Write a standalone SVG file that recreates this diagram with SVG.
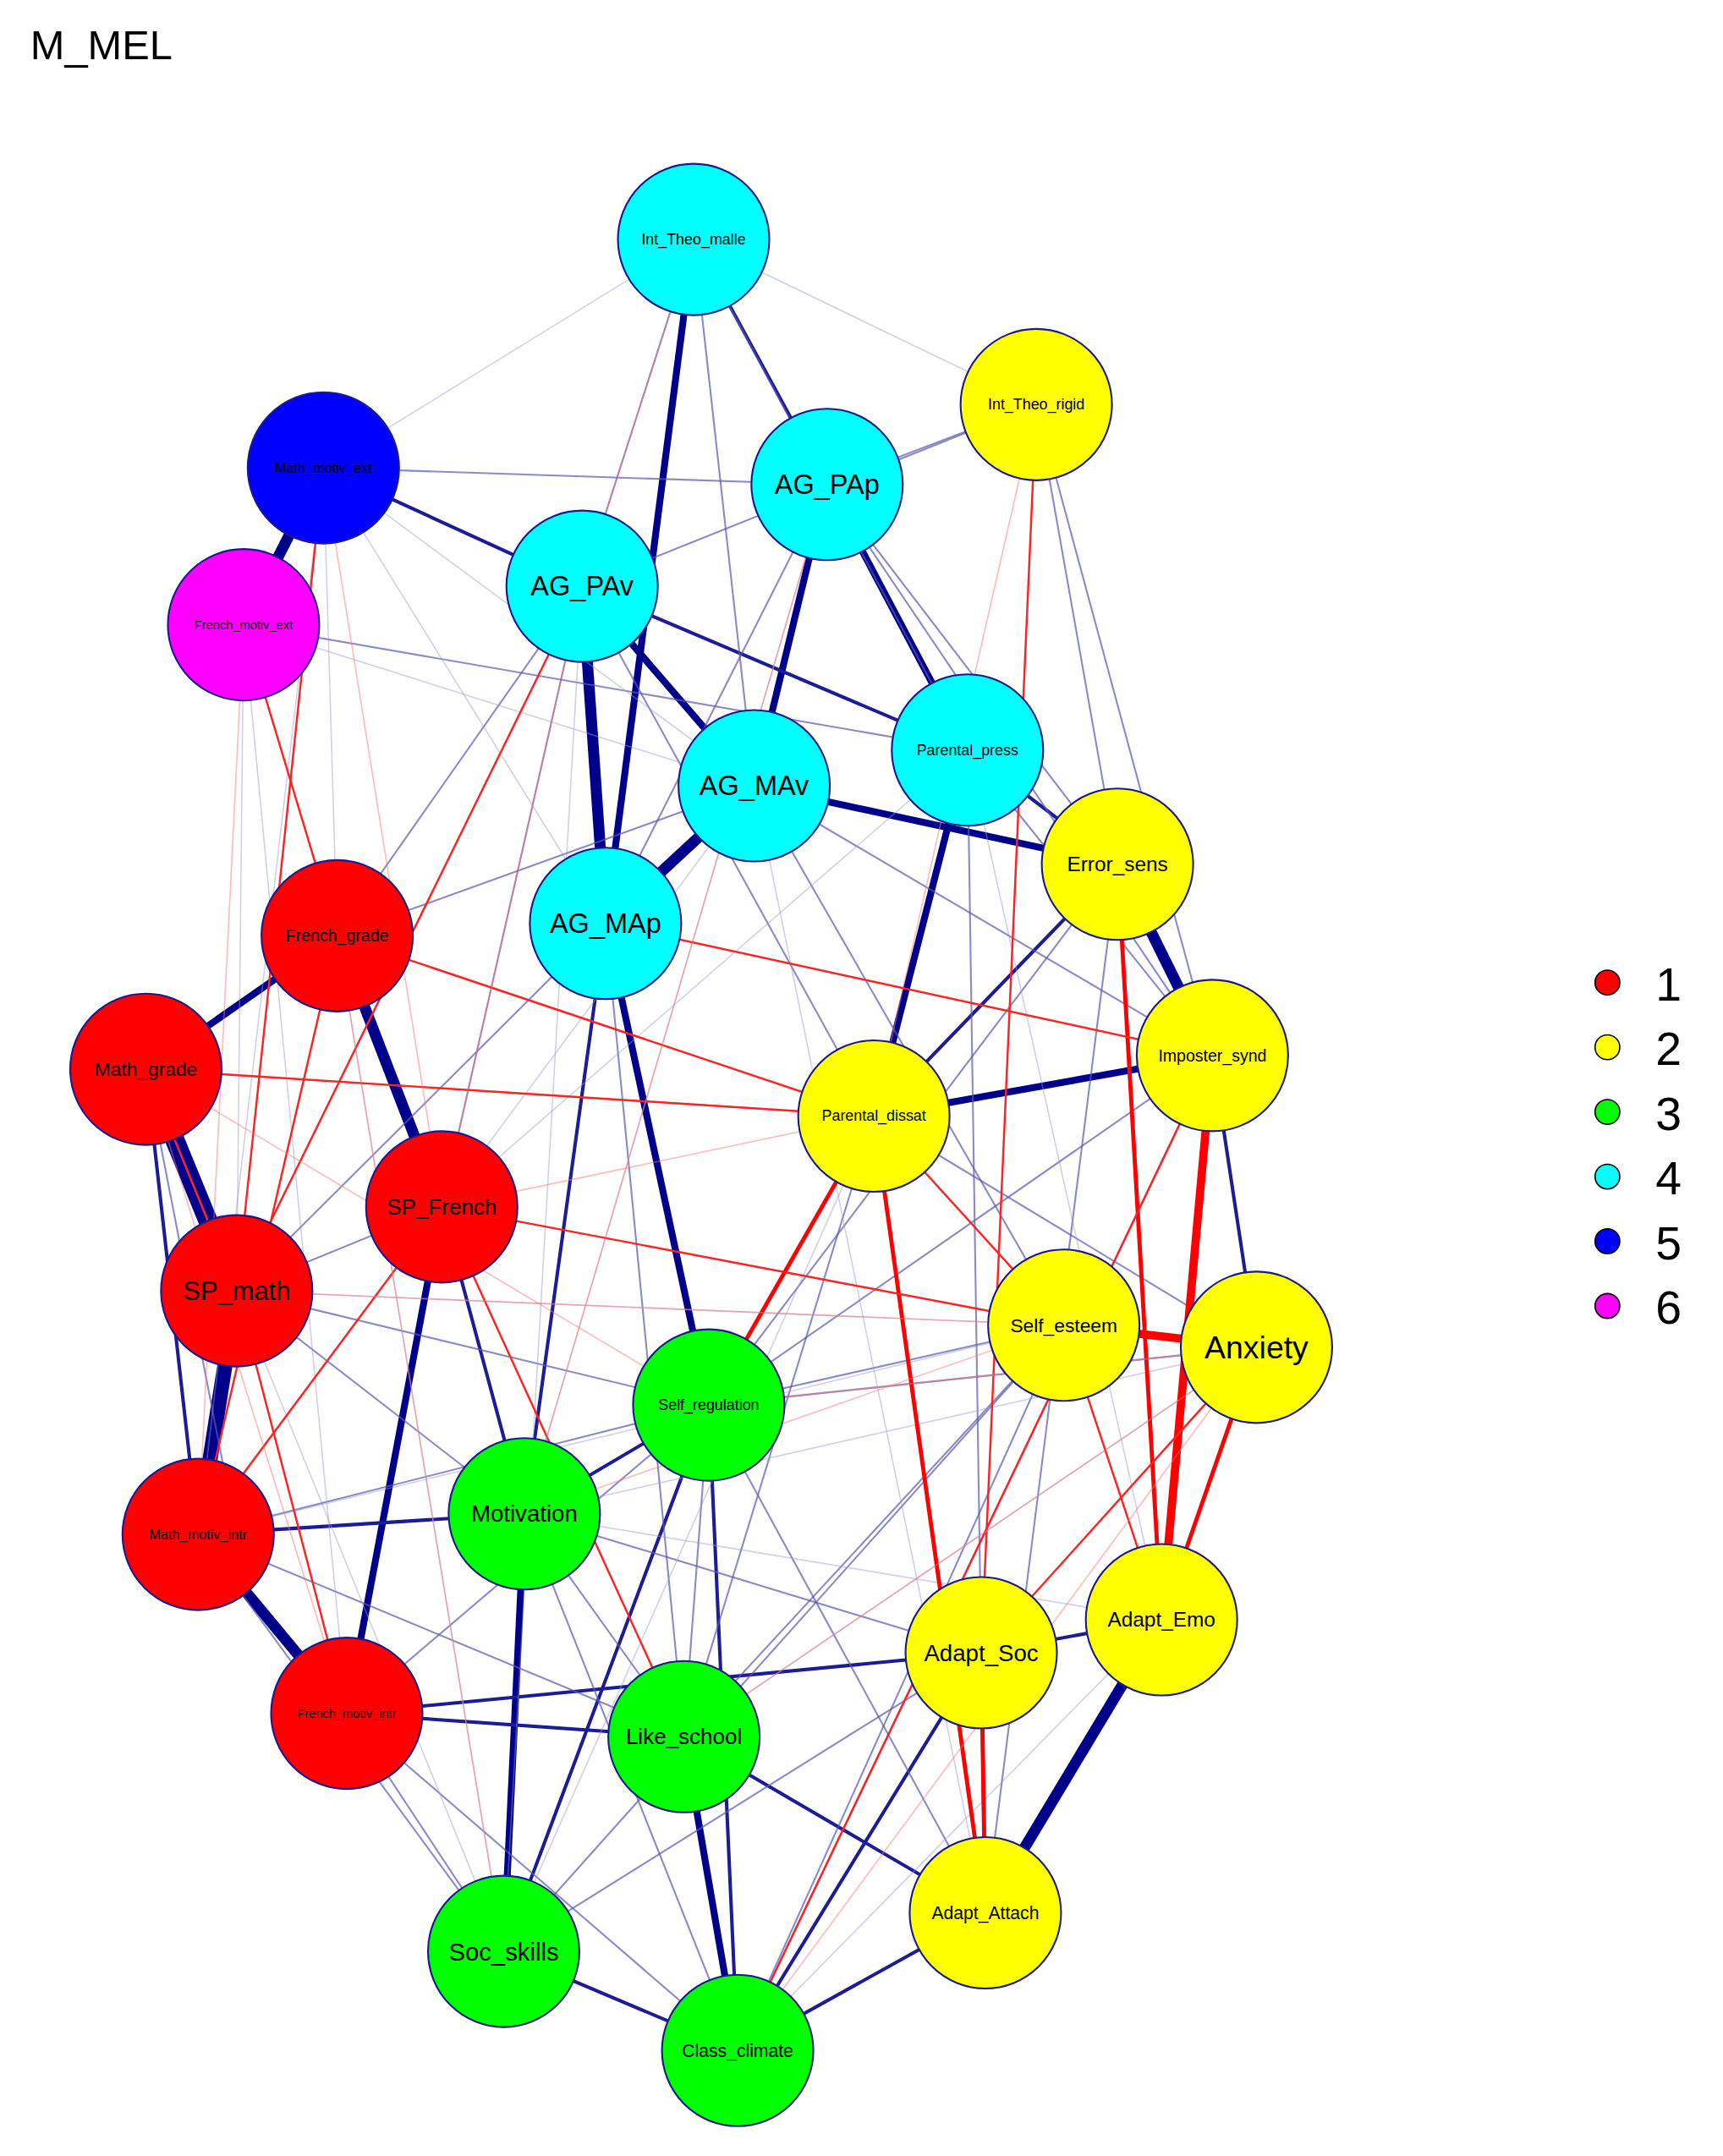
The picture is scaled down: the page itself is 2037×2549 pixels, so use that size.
<svg xmlns="http://www.w3.org/2000/svg" width="2037" height="2549" viewBox="0 0 2037 2549">
<style>
.n{stroke:#1a1a8c;stroke-width:1.3}
.t{font-family:"Liberation Sans",Arial,sans-serif;text-anchor:middle;dominant-baseline:central;fill:#000}
.b1{stroke:#00008b;stroke-width:8}.b2{stroke:#00008b;stroke-width:5}.b3{stroke:#1c1c96;stroke-width:2.5}.b4{stroke:#5a5ab0;stroke-width:1.3;opacity:.7}.b5{stroke:#9a9ad0;stroke-width:1;opacity:.45}
.r1{stroke:#ff0000;stroke-width:6}.r2{stroke:#ff0000;stroke-width:3}.r3{stroke:#f22;stroke-width:1.5}.r4{stroke:#f77;stroke-width:1;opacity:.5}
</style>
<rect width="2037" height="2549" fill="#fff"/>
<g transform="scale(1.627)">
<text x="22" y="43" style="font-family:'Liberation Sans',Arial,sans-serif;font-size:30px">M_MEL</text>
<g id="edges" fill="none">
<line class="b1" x1="235" y1="340" x2="177" y2="454"/>
<line class="b1" x1="106" y1="777" x2="172" y2="938" style="stroke-width:14"/>
<line class="b1" x1="172" y1="938" x2="144" y2="1115" style="stroke-width:11"/>
<line class="b1" x1="144" y1="1115" x2="252" y2="1245"/>
<line class="b1" x1="245" y1="680" x2="321" y2="877"/>
<line class="b2" x1="245" y1="680" x2="106" y2="777"/>
<line class="b1" x1="423" y1="426" x2="440" y2="671"/>
<line class="b1" x1="548" y1="571" x2="440" y2="671"/>
<line class="b2" x1="601" y1="352" x2="703" y2="545"/>
<line class="b1" x1="812" y1="628" x2="881" y2="767"/>
<line class="b1" x1="844" y1="1177" x2="716" y2="1390"/>
<line class="b2" x1="440" y1="671" x2="515" y2="1021"/>
<line class="b2" x1="504" y1="174" x2="440" y2="671"/>
<line class="b2" x1="381" y1="1100" x2="366" y2="1418"/>
<line class="b2" x1="321" y1="877" x2="252" y2="1245"/>
<line class="b2" x1="497" y1="1262" x2="536" y2="1490"/>
<line class="b2" x1="703" y1="545" x2="635" y2="811"/>
<line class="b2" x1="635" y1="811" x2="881" y2="767"/>
<line class="b2" x1="548" y1="571" x2="812" y2="628"/>
<line class="b2" x1="601" y1="352" x2="548" y2="571"/>
<line class="b2" x1="423" y1="426" x2="548" y2="571"/>
<line class="b3" x1="252" y1="1245" x2="497" y2="1262"/>
<line class="b3" x1="515" y1="1021" x2="381" y2="1100"/>
<line class="b3" x1="515" y1="1021" x2="366" y2="1418"/>
<line class="b3" x1="713" y1="1201" x2="716" y2="1390"/>
<line class="b3" x1="713" y1="1201" x2="844" y2="1177"/>
<line class="b3" x1="881" y1="767" x2="913" y2="979"/>
<line class="b3" x1="703" y1="545" x2="812" y2="628"/>
<line class="b3" x1="504" y1="174" x2="601" y2="352"/>
<line class="b3" x1="235" y1="340" x2="423" y2="426"/>
<line class="b3" x1="144" y1="1115" x2="381" y2="1100"/>
<line class="b3" x1="497" y1="1262" x2="716" y2="1390"/>
<line class="b3" x1="536" y1="1490" x2="716" y2="1390"/>
<line class="b3" x1="366" y1="1418" x2="536" y2="1490"/>
<line class="b3" x1="515" y1="1021" x2="536" y2="1490"/>
<line class="b3" x1="440" y1="671" x2="381" y2="1100"/>
<line class="b3" x1="321" y1="877" x2="381" y2="1100"/>
<line class="b3" x1="536" y1="1490" x2="713" y2="1201"/>
<line class="b3" x1="252" y1="1245" x2="713" y2="1201"/>
<line class="b3" x1="812" y1="628" x2="635" y2="811"/>
<line class="b3" x1="423" y1="426" x2="703" y2="545"/>
<line class="b3" x1="106" y1="777" x2="144" y2="1115"/>
<line class="b4" x1="504" y1="174" x2="423" y2="426"/>
<line class="b4" x1="504" y1="174" x2="548" y2="571"/>
<line class="b4" x1="504" y1="174" x2="703" y2="545"/>
<line class="b4" x1="753" y1="294" x2="601" y2="352"/>
<line class="b4" x1="753" y1="294" x2="423" y2="426"/>
<line class="b4" x1="753" y1="294" x2="881" y2="767"/>
<line class="b4" x1="753" y1="294" x2="812" y2="628"/>
<line class="b4" x1="235" y1="340" x2="601" y2="352"/>
<line class="b4" x1="177" y1="454" x2="703" y2="545"/>
<line class="b4" x1="601" y1="352" x2="881" y2="767"/>
<line class="b4" x1="601" y1="352" x2="440" y2="671"/>
<line class="b4" x1="601" y1="352" x2="812" y2="628"/>
<line class="b4" x1="423" y1="426" x2="245" y2="680"/>
<line class="b4" x1="423" y1="426" x2="635" y2="811"/>
<line class="b4" x1="548" y1="571" x2="881" y2="767"/>
<line class="b4" x1="548" y1="571" x2="773" y2="963"/>
<line class="b4" x1="440" y1="671" x2="172" y2="938"/>
<line class="b4" x1="440" y1="671" x2="497" y2="1262"/>
<line class="b4" x1="703" y1="545" x2="881" y2="767"/>
<line class="b4" x1="703" y1="545" x2="713" y2="1201"/>
<line class="b4" x1="812" y1="628" x2="515" y2="1021"/>
<line class="b4" x1="812" y1="628" x2="716" y2="1390"/>
<line class="b4" x1="881" y1="767" x2="515" y2="1021"/>
<line class="b4" x1="881" y1="767" x2="536" y2="1490"/>
<line class="b4" x1="635" y1="811" x2="497" y2="1262"/>
<line class="b4" x1="635" y1="811" x2="913" y2="979"/>
<line class="b4" x1="773" y1="963" x2="515" y2="1021"/>
<line class="b4" x1="773" y1="963" x2="366" y2="1418"/>
<line class="b4" x1="773" y1="963" x2="536" y2="1490"/>
<line class="b4" x1="913" y1="979" x2="515" y2="1021"/>
<line class="b4" x1="515" y1="1021" x2="144" y2="1115"/>
<line class="b4" x1="515" y1="1021" x2="252" y2="1245"/>
<line class="b4" x1="515" y1="1021" x2="497" y2="1262"/>
<line class="b4" x1="515" y1="1021" x2="716" y2="1390"/>
<line class="b4" x1="381" y1="1100" x2="713" y2="1201"/>
<line class="b4" x1="381" y1="1100" x2="536" y2="1490"/>
<line class="b4" x1="381" y1="1100" x2="497" y2="1262"/>
<line class="b4" x1="144" y1="1115" x2="497" y2="1262"/>
<line class="b4" x1="144" y1="1115" x2="366" y2="1418"/>
<line class="b4" x1="252" y1="1245" x2="366" y2="1418"/>
<line class="b4" x1="252" y1="1245" x2="536" y2="1490"/>
<line class="b4" x1="321" y1="877" x2="172" y2="938"/>
<line class="b4" x1="321" y1="877" x2="423" y2="426"/>
<line class="b4" x1="245" y1="680" x2="548" y2="571"/>
<line class="b4" x1="172" y1="938" x2="381" y2="1100"/>
<line class="b4" x1="172" y1="938" x2="515" y2="1021"/>
<line class="b4" x1="106" y1="777" x2="172" y2="1115"/>
<line class="b4" x1="497" y1="1262" x2="773" y2="963"/>
<line class="b4" x1="366" y1="1418" x2="713" y2="1201"/>
<line class="b5" x1="504" y1="174" x2="235" y2="340"/>
<line class="b5" x1="504" y1="174" x2="753" y2="294"/>
<line class="b5" x1="235" y1="340" x2="548" y2="571"/>
<line class="b5" x1="235" y1="340" x2="440" y2="671"/>
<line class="b5" x1="235" y1="340" x2="144" y2="1115"/>
<line class="b5" x1="177" y1="454" x2="172" y2="938"/>
<line class="b5" x1="177" y1="454" x2="252" y2="1245"/>
<line class="b5" x1="177" y1="454" x2="548" y2="571"/>
<line class="b5" x1="423" y1="426" x2="172" y2="938"/>
<line class="b5" x1="423" y1="426" x2="366" y2="1418"/>
<line class="b5" x1="548" y1="571" x2="144" y2="1115"/>
<line class="b5" x1="548" y1="571" x2="716" y2="1390"/>
<line class="b5" x1="601" y1="352" x2="381" y2="1100"/>
<line class="b5" x1="703" y1="545" x2="321" y2="877"/>
<line class="b5" x1="703" y1="545" x2="844" y2="1177"/>
<line class="b5" x1="635" y1="811" x2="366" y2="1418"/>
<line class="b5" x1="635" y1="811" x2="106" y2="777"/>
<line class="b5" x1="773" y1="963" x2="172" y2="938"/>
<line class="b5" x1="773" y1="963" x2="144" y2="1115"/>
<line class="b5" x1="913" y1="979" x2="381" y2="1100"/>
<line class="b5" x1="913" y1="979" x2="497" y2="1262"/>
<line class="b5" x1="844" y1="1177" x2="381" y2="1100"/>
<line class="b5" x1="844" y1="1177" x2="536" y2="1490"/>
<line class="b5" x1="245" y1="680" x2="366" y2="1418"/>
<line class="b5" x1="106" y1="777" x2="366" y2="1418"/>
<line class="b5" x1="235" y1="340" x2="245" y2="680"/>
<line class="r1" x1="773" y1="963" x2="913" y2="979"/>
<line class="r1" x1="881" y1="767" x2="844" y2="1177"/>
<line class="r2" x1="635" y1="811" x2="716" y2="1390"/>
<line class="r2" x1="635" y1="811" x2="515" y2="1021"/>
<line class="r2" x1="913" y1="979" x2="844" y2="1177"/>
<line class="r2" x1="812" y1="628" x2="844" y2="1177"/>
<line class="r2" x1="713" y1="1201" x2="716" y2="1390"/>
<line class="r3" x1="245" y1="680" x2="635" y2="811"/>
<line class="r3" x1="773" y1="963" x2="844" y2="1177"/>
<line class="r3" x1="635" y1="811" x2="773" y2="963"/>
<line class="r3" x1="913" y1="979" x2="713" y2="1201"/>
<line class="r3" x1="172" y1="938" x2="423" y2="426"/>
<line class="r3" x1="144" y1="1115" x2="321" y2="877"/>
<line class="r3" x1="321" y1="877" x2="497" y2="1262"/>
<line class="r3" x1="440" y1="671" x2="881" y2="767"/>
<line class="r3" x1="106" y1="777" x2="635" y2="811"/>
<line class="r3" x1="177" y1="454" x2="245" y2="680"/>
<line class="r3" x1="235" y1="340" x2="172" y2="938"/>
<line class="r3" x1="753" y1="294" x2="713" y2="1201"/>
<line class="r3" x1="144" y1="1115" x2="245" y2="680"/>
<line class="r3" x1="252" y1="1245" x2="172" y2="938"/>
<line class="r3" x1="321" y1="877" x2="773" y2="963"/>
<line class="r3" x1="536" y1="1490" x2="881" y2="767"/>
<line class="r3" x1="172" y1="938" x2="106" y2="777"/>
<line class="r4" x1="504" y1="174" x2="423" y2="426"/>
<line class="r4" x1="423" y1="426" x2="321" y2="877"/>
<line class="r4" x1="601" y1="352" x2="381" y2="1100"/>
<line class="r4" x1="753" y1="294" x2="635" y2="811"/>
<line class="r4" x1="106" y1="777" x2="515" y2="1021"/>
<line class="r4" x1="172" y1="938" x2="773" y2="963"/>
<line class="r4" x1="321" y1="877" x2="635" y2="811"/>
<line class="r4" x1="515" y1="1021" x2="913" y2="979"/>
<line class="r4" x1="497" y1="1262" x2="913" y2="979"/>
<line class="r4" x1="536" y1="1490" x2="913" y2="979"/>
<line class="r4" x1="366" y1="1418" x2="245" y2="680"/>
<line class="r4" x1="252" y1="1245" x2="106" y2="777"/>
<line class="r4" x1="381" y1="1100" x2="773" y2="963"/>
<line class="r4" x1="235" y1="340" x2="321" y2="877"/>
<line class="r4" x1="177" y1="454" x2="144" y2="1115"/>
</g>
<g id="Int_Theo_malle"><circle class="n" cx="504" cy="174" r="55" fill="#00ffff"/><text class="t" x="504" y="174" font-size="11">Int_Theo_malle</text></g>
<g id="Int_Theo_rigid"><circle class="n" cx="753" cy="294" r="55" fill="#ffff00"/><text class="t" x="753" y="294" font-size="11">Int_Theo_rigid</text></g>
<g id="Math_motiv_ext"><circle class="n" cx="235" cy="340" r="55" fill="#0000ff"/><text class="t" x="235" y="340" font-size="10">Math_motiv_ext</text></g>
<g id="AG_PAp"><circle class="n" cx="601" cy="352" r="55" fill="#00ffff"/><text class="t" x="601" y="352" font-size="20">AG_PAp</text></g>
<g id="AG_PAv"><circle class="n" cx="423" cy="426" r="55" fill="#00ffff"/><text class="t" x="423" y="426" font-size="20">AG_PAv</text></g>
<g id="French_motiv_ext"><circle class="n" cx="177" cy="454" r="55" fill="#ff00ff"/><text class="t" x="177" y="454" font-size="9">French_motiv_ext</text></g>
<g id="Parental_press"><circle class="n" cx="703" cy="545" r="55" fill="#00ffff"/><text class="t" x="703" y="545" font-size="11">Parental_press</text></g>
<g id="AG_MAv"><circle class="n" cx="548" cy="571" r="55" fill="#00ffff"/><text class="t" x="548" y="571" font-size="20">AG_MAv</text></g>
<g id="Error_sens"><circle class="n" cx="812" cy="628" r="55" fill="#ffff00"/><text class="t" x="812" y="628" font-size="15">Error_sens</text></g>
<g id="AG_MAp"><circle class="n" cx="440" cy="671" r="55" fill="#00ffff"/><text class="t" x="440" y="671" font-size="20">AG_MAp</text></g>
<g id="French_grade"><circle class="n" cx="245" cy="680" r="55" fill="#ff0000"/><text class="t" x="245" y="680" font-size="12">French_grade</text></g>
<g id="Math_grade"><circle class="n" cx="106" cy="777" r="55" fill="#ff0000"/><text class="t" x="106" y="777" font-size="14">Math_grade</text></g>
<g id="Imposter_synd"><circle class="n" cx="881" cy="767" r="55" fill="#ffff00"/><text class="t" x="881" y="767" font-size="12">Imposter_synd</text></g>
<g id="Parental_dissat"><circle class="n" cx="635" cy="811" r="55" fill="#ffff00"/><text class="t" x="635" y="811" font-size="11">Parental_dissat</text></g>
<g id="SP_French"><circle class="n" cx="321" cy="877" r="55" fill="#ff0000"/><text class="t" x="321" y="877" font-size="16">SP_French</text></g>
<g id="SP_math"><circle class="n" cx="172" cy="938" r="55" fill="#ff0000"/><text class="t" x="172" y="938" font-size="19">SP_math</text></g>
<g id="Self_esteem"><circle class="n" cx="773" cy="963" r="55" fill="#ffff00"/><text class="t" x="773" y="963" font-size="14">Self_esteem</text></g>
<g id="Anxiety"><circle class="n" cx="913" cy="979" r="55" fill="#ffff00"/><text class="t" x="913" y="979" font-size="23">Anxiety</text></g>
<g id="Self_regulation"><circle class="n" cx="515" cy="1021" r="55" fill="#00ff00"/><text class="t" x="515" y="1021" font-size="11">Self_regulation</text></g>
<g id="Motivation"><circle class="n" cx="381" cy="1100" r="55" fill="#00ff00"/><text class="t" x="381" y="1100" font-size="17">Motivation</text></g>
<g id="Math_motiv_intr"><circle class="n" cx="144" cy="1115" r="55" fill="#ff0000"/><text class="t" x="144" y="1115" font-size="10">Math_motiv_intr</text></g>
<g id="Adapt_Emo"><circle class="n" cx="844" cy="1177" r="55" fill="#ffff00"/><text class="t" x="844" y="1177" font-size="15">Adapt_Emo</text></g>
<g id="Adapt_Soc"><circle class="n" cx="713" cy="1201" r="55" fill="#ffff00"/><text class="t" x="713" y="1201" font-size="17">Adapt_Soc</text></g>
<g id="French_motiv_intr"><circle class="n" cx="252" cy="1245" r="55" fill="#ff0000"/><text class="t" x="252" y="1245" font-size="9">French_motiv_intr</text></g>
<g id="Like_school"><circle class="n" cx="497" cy="1262" r="55" fill="#00ff00"/><text class="t" x="497" y="1262" font-size="16">Like_school</text></g>
<g id="Adapt_Attach"><circle class="n" cx="716" cy="1390" r="55" fill="#ffff00"/><text class="t" x="716" y="1390" font-size="13">Adapt_Attach</text></g>
<g id="Soc_skills"><circle class="n" cx="366" cy="1418" r="55" fill="#00ff00"/><text class="t" x="366" y="1418" font-size="18">Soc_skills</text></g>
<g id="Class_climate"><circle class="n" cx="536" cy="1490" r="55" fill="#00ff00"/><text class="t" x="536" y="1490" font-size="13">Class_climate</text></g>
<g id="legend" style="font-family:'Liberation Sans',Arial,sans-serif;font-size:34px">
<circle cx="1168" cy="714" r="9" fill="#ff0000" stroke="#000"/><text x="1203" y="727">1</text>
<circle cx="1168" cy="761" r="9" fill="#ffff00" stroke="#000"/><text x="1203" y="774">2</text>
<circle cx="1168" cy="808" r="9" fill="#00ff00" stroke="#000"/><text x="1203" y="821">3</text>
<circle cx="1168" cy="855" r="9" fill="#00ffff" stroke="#000"/><text x="1203" y="868">4</text>
<circle cx="1168" cy="902" r="9" fill="#0000ff" stroke="#000"/><text x="1203" y="915">5</text>
<circle cx="1168" cy="949" r="9" fill="#ff00ff" stroke="#000"/><text x="1203" y="962">6</text>
</g>
</g>
</svg>
